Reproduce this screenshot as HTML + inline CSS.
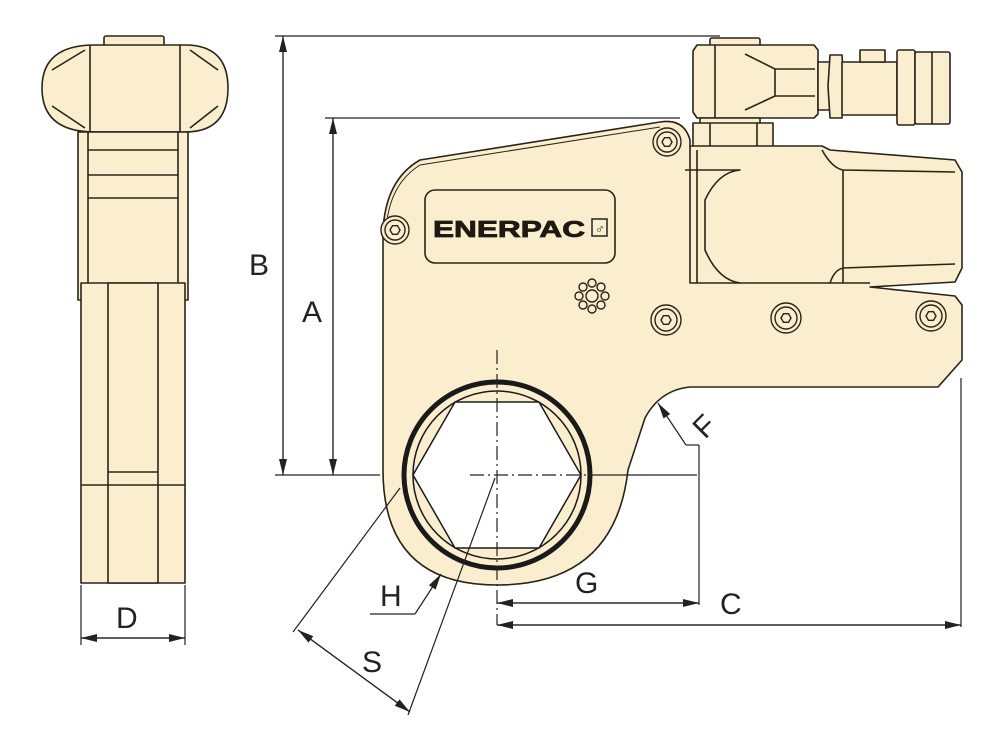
<!DOCTYPE html>
<html><head><meta charset="utf-8"><style>
html,body{margin:0;padding:0;background:#fff;}
svg{display:block;}
text{font-family:"Liberation Sans",sans-serif;fill:#222;}
</style></head><body>
<svg width="1000" height="750" viewBox="0 0 1000 750" xmlns="http://www.w3.org/2000/svg">
<defs>
<marker id="ar" markerWidth="16" markerHeight="8" refX="16" refY="4" orient="auto" markerUnits="userSpaceOnUse">
<path d="M0,0 L16,4 L0,8 Z" fill="#222"/></marker>
</defs>
<g stroke="#2a2418" stroke-width="1.6" fill="#faeecf" stroke-linejoin="round">
<!-- side view -->
<rect x="104" y="36" width="60" height="10" rx="2"/>
<path d="M95,45 L185,45 Q228,45 228,88 Q228,132 185,132 L95,132 Q42,132 42,88 Q42,45 95,45 Z"/>
<path d="M52,70 L85,50 M52,106 L85,128 M218,70 L190,50 M218,106 L190,128" fill="none"/>
<line x1="90" y1="45" x2="90" y2="132"/><line x1="180" y1="45" x2="180" y2="132"/>
<rect x="78" y="132" width="110" height="168"/>
<rect x="88" y="132" width="90" height="168"/>
<line x1="88" y1="150" x2="178" y2="150"/><line x1="88" y1="175" x2="178" y2="175"/>
<line x1="88" y1="198" x2="178" y2="198"/>
<rect x="81" y="283" width="104" height="300"/>
<rect x="108" y="283" width="50" height="300"/>
<line x1="81" y1="485" x2="185" y2="485"/><line x1="108" y1="472" x2="158" y2="472"/>
<!-- swivel -->
<rect x="710" y="38" width="50" height="9" rx="2"/>
<path d="M697,45 L814,45 L818,50 L818,114 L814,118 L697,118 L693,112 L693,51 Z"/>
<line x1="715" y1="45" x2="715" y2="118"/>
<path d="M745,54 L775,69 L815,69 M745,110 L775,96 L815,96 M775,69 L775,96" fill="none"/>
<rect x="818" y="62" width="12" height="48"/>
<path d="M830,55 L842,55 L844,86 L842,118 L830,118 L828,86 Z"/>
<rect x="842" y="62" width="55" height="53"/>
<rect x="860" y="50" width="25" height="12"/>
<rect x="897" y="50" width="18" height="75" rx="2"/>
<rect x="915" y="52" width="35" height="72" rx="2"/>
<line x1="932" y1="52" x2="932" y2="124"/>
<rect x="700" y="118" width="60" height="7"/>
<rect x="693" y="123" width="80" height="25"/>
<line x1="710" y1="123" x2="710" y2="148"/><line x1="757" y1="123" x2="757" y2="148"/>
<!-- main body -->
<path d="M383,470 L383,232 Q385,180 420,160 L660,122 Q684,118 690,140 L690,146 L822,146 L830,150 L955,160 L962,172 L962,268 L955,282 L870,287 L955,296 L962,305 L962,360 L938,387 L690,387 Q660,390 645,418 L628,470 Q615,585 497,585 Q383,585 383,470 Z"/>
<path d="M690,146 L690,283 L870,283 M697,150 L697,283 M822,150 Q832,168 843,170 L955,172 M843,170 L843,283 M843,268 L955,264 M830,283 Q835,268 845,268" fill="none"/>
<path d="M685,170 L740,170 Q718,172 705,200 L705,250 Q718,280 740,283" fill="none"/>
<path d="M386,232 Q388,185 420,165 L660,127" fill="none" stroke-width="1"/>
<rect x="425" y="190" width="190" height="73" rx="10"/>
</g>
<!-- bolts -->
<g stroke="#2a2418" stroke-width="1.4" fill="#faeecf">
<g transform="translate(667,142)"><circle r="14"/><circle r="10"/><polygon points="5,0 2.5,4.3 -2.5,4.3 -5,0 -2.5,-4.3 2.5,-4.3"/></g>
<g transform="translate(395,230)"><circle r="14"/><circle r="10"/><polygon points="5,0 2.5,4.3 -2.5,4.3 -5,0 -2.5,-4.3 2.5,-4.3"/></g>
<g transform="translate(666,320)"><circle r="15"/><circle r="11"/><polygon points="5,0 2.5,4.3 -2.5,4.3 -5,0 -2.5,-4.3 2.5,-4.3"/></g>
<g transform="translate(786,318)"><circle r="15"/><circle r="11"/><polygon points="5,0 2.5,4.3 -2.5,4.3 -5,0 -2.5,-4.3 2.5,-4.3"/></g>
<g transform="translate(931,316)"><circle r="15"/><circle r="11"/><polygon points="5,0 2.5,4.3 -2.5,4.3 -5,0 -2.5,-4.3 2.5,-4.3"/></g>
<g transform="translate(592,296)"><circle r="6"/>
<circle cx="0" cy="-13" r="4"/><circle cx="9" cy="-9" r="4"/><circle cx="13" cy="0" r="4"/><circle cx="9" cy="9" r="4"/><circle cx="0" cy="13" r="4"/><circle cx="-9" cy="9" r="4"/><circle cx="-13" cy="0" r="4"/><circle cx="-9" cy="-9" r="4"/></g>
</g>
<text x="433" y="237" font-size="23" font-weight="bold" style="fill:#1e1a12;stroke:#1e1a12;stroke-width:0.8" textLength="152" lengthAdjust="spacingAndGlyphs">ENERPAC</text>
<rect x="592" y="219" width="15" height="17" fill="none" stroke="#222" stroke-width="1.5"/>
<text x="595" y="233" font-size="13" font-weight="bold">♂</text>
<!-- ring -->
<g stroke="#1a1a1a" fill="#fff">
<circle cx="497" cy="475" r="93" stroke-width="5" fill="#faeecf"/>
<circle cx="497" cy="475" r="84" stroke-width="1.5" fill="#faeecf"/>
<polygon points="413,475 455,402 539,402 581,475 539,548 455,548" stroke-width="1.5"/>
</g>
<!-- dimension lines -->
<g stroke="#222" stroke-width="1.2" fill="none">
<line x1="275" y1="36" x2="720" y2="36"/>
<line x1="325" y1="118" x2="680" y2="118"/>
<line x1="275" y1="475" x2="380" y2="475"/><line x1="590" y1="475" x2="697" y2="475"/>
<line x1="283" y1="36" x2="283" y2="475" marker-end="url(#ar)"/>
<line x1="283" y1="475" x2="283" y2="36" marker-end="url(#ar)"/>
<line x1="333" y1="118" x2="333" y2="475" marker-end="url(#ar)"/>
<line x1="333" y1="475" x2="333" y2="118" marker-end="url(#ar)"/>
<line x1="497" y1="350" x2="497" y2="625" stroke-dasharray="14,4,2,4"/>
<line x1="470" y1="475" x2="590" y2="475" stroke-dasharray="14,4,2,4"/>
<line x1="699" y1="445" x2="699" y2="605"/>
<line x1="961" y1="378" x2="961" y2="627"/>
<line x1="497" y1="603" x2="699" y2="603" marker-end="url(#ar)"/>
<line x1="699" y1="603" x2="497" y2="603" marker-end="url(#ar)"/>
<line x1="497" y1="625" x2="961" y2="625" marker-end="url(#ar)"/>
<line x1="961" y1="625" x2="497" y2="625" marker-end="url(#ar)"/>
<path d="M699,445 L686,445"/>
<line x1="686" y1="445" x2="658" y2="403" marker-end="url(#ar)"/>
<line x1="81" y1="585" x2="81" y2="645"/><line x1="185" y1="585" x2="185" y2="645"/>
<line x1="81" y1="638" x2="185" y2="638" marker-end="url(#ar)"/>
<line x1="185" y1="638" x2="81" y2="638" marker-end="url(#ar)"/>
<line x1="400" y1="488" x2="293" y2="632"/>
<line x1="495" y1="478" x2="408" y2="715"/>
<line x1="298" y1="630" x2="410" y2="712" marker-end="url(#ar)"/>
<line x1="410" y1="712" x2="298" y2="630" marker-end="url(#ar)"/>
<path d="M370,614 L415,614"/>
<line x1="415" y1="614" x2="441" y2="574" marker-end="url(#ar)"/>
</g>
<g font-size="30">
<text x="249" y="275">B</text>
<text x="302" y="322">A</text>
<text x="720" y="614">C</text>
<text x="575" y="593">G</text>
<text x="380" y="606">H</text>
<text x="362" y="672">S</text>
<text x="116" y="628">D</text>
<text x="0" y="0" transform="translate(705,440) rotate(-45)">F</text>
</g>
</svg>
</body></html>
